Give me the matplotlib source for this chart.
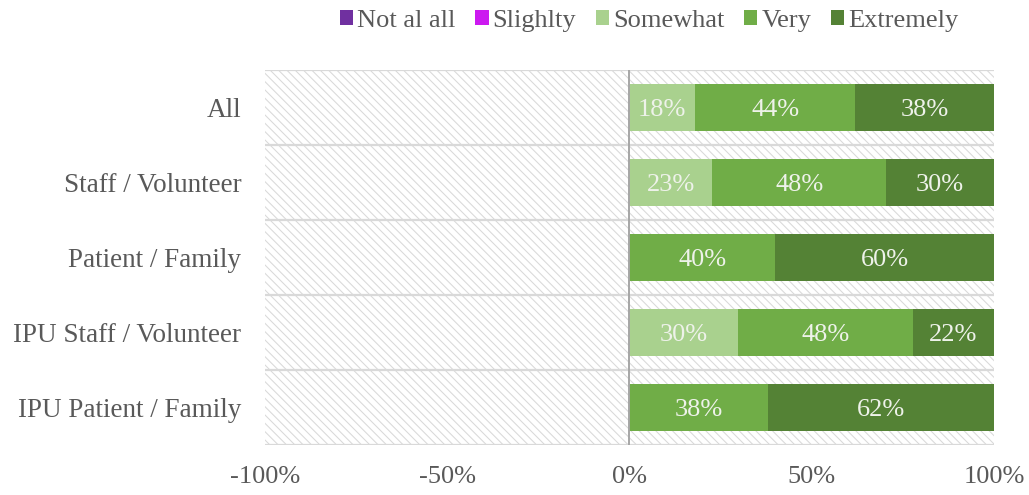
import matplotlib
matplotlib.use("Agg")
import matplotlib.pyplot as plt
from matplotlib.patches import Rectangle, Patch

plt.rcParams['font.family'] = ['Liberation Serif', 'DejaVu Serif']
plt.rcParams['hatch.linewidth'] = 0.75
plt.rcParams['hatch.color'] = '#D9D9D9'

categories = ["All", "Staff / Volunteer", "Patient / Family",
              "IPU Staff / Volunteer", "IPU Patient / Family"]
not_at_all = [0, 0, 0, 0, 0]
slightly = [0, 0, 0, 0, 0]
somewhat = [18, 22.7, 0, 29.9, 0]
very = [44, 47.7, 40, 47.9, 38]
extremely = [38, 29.6, 60, 22.2, 62]
tick_values = [-100, -50, 0, 50, 100]
tick_labels = ["-100%", "-50%", "0%", "50%", "100%"]

colors = {
    "Not al all": "#7030A0",
    "Slighlty": "#CC19F0",
    "Somewhat": "#A9D18E",
    "Very": "#70AD47",
    "Extremely": "#548235",
}
text_color = "#595959"
fs = 19

fig = plt.figure(figsize=(10.29, 4.95), dpi=100)
ax = fig.add_axes([0.2575, 0.101, 0.7085, 0.7576])

n = len(categories)
ypos = list(range(n))
bar_h = 0.63

# hatched plot-area background
ax.add_patch(Rectangle((-100, -0.5), 201, n, facecolor='white',
                       edgecolor='#D9D9D9', hatch='\\\\\\\\', linewidth=0,
                       zorder=0))

# negative side (stacked leftwards from zero)
left = [0.0] * n
for vals, name in [(slightly, "Slighlty"), (not_at_all, "Not al all")]:
    starts = [l - v for l, v in zip(left, vals)]
    ax.barh(ypos, vals, left=starts, height=bar_h, color=colors[name],
            zorder=3)
    left = starts

# positive side
left = [0.0] * n
for vals, name in [(somewhat, "Somewhat"), (very, "Very"),
                   (extremely, "Extremely")]:
    ax.barh(ypos, vals, left=left, height=bar_h, color=colors[name],
            zorder=3)
    for y, l, v in zip(ypos, left, vals):
        if v > 0:
            ax.text(l + v / 2, y, f"{round(v):.0f}%", ha='center',
                    va='center_baseline', fontsize=fs, color='#EEF2EA',
                    zorder=4)
    left = [l + v for l, v in zip(left, vals)]

# category separators and zero line
for b in [i - 0.5 for i in range(n + 1)]:
    ax.axhline(b, color='#D9D9D9', linewidth=1.6, zorder=2)
ax.axvline(0, color='#A6A6A6', linewidth=1.4, zorder=5)

ax.set_xlim(-100, 100)
ax.set_ylim(n - 0.5, -0.5)
ax.set_yticks(ypos)
ax.set_yticklabels(categories)
ax.set_xticks(tick_values)
ax.set_xticklabels(tick_labels)
ax.tick_params(axis='both', length=0, labelsize=fs, colors=text_color)
ax.tick_params(axis='y', pad=17, labelsize=19.5)
ax.tick_params(axis='x', pad=15)
for s in ax.spines.values():
    s.set_visible(False)

handles = [Patch(facecolor=c, edgecolor='none') for c in colors.values()]
fig.legend(handles, list(colors.keys()), loc='center',
           bbox_to_anchor=(0.631, 0.958), ncol=5, frameon=False,
           fontsize=fs, labelcolor=text_color, handlelength=0.5,
           handleheight=0.5, handletextpad=0.15, columnspacing=0.75)

fig.savefig("out.png", dpi=100)
